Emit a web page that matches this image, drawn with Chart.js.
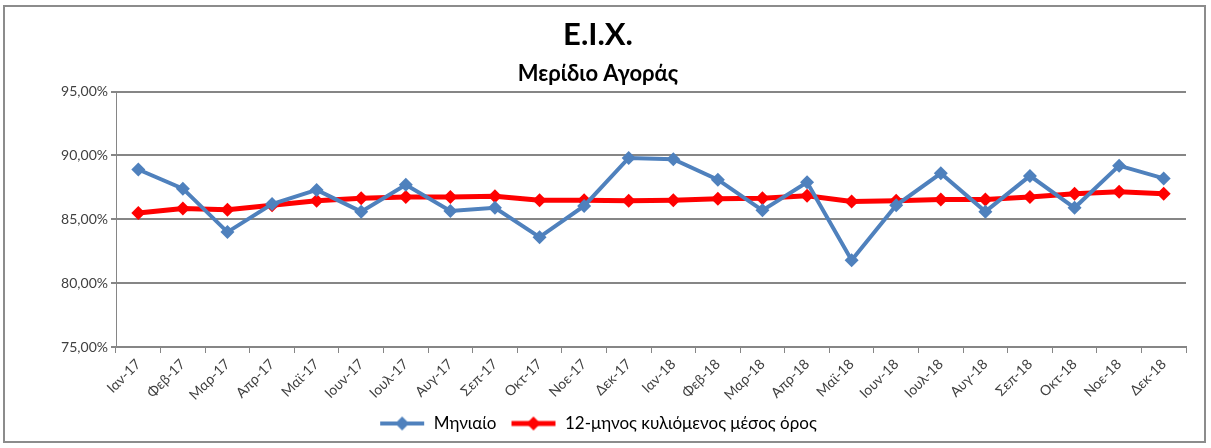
<!DOCTYPE html>
<html lang="el">
<head>
    <meta charset="UTF-8">
    <script src="https://cdn.jsdelivr.net/npm/chart.js"></script>
    <title>Μερίδιο Αγοράς</title>
    <style>
        body {
            margin: 0;
            background: #ffffff;
        }
        .wrap {
            width: 1211px;
            height: 448px;
            position: relative;
        }
    </style>
</head>
<body>
    <div class="wrap">
        <canvas id="shareChart" width="1211" height="448"></canvas>
    </div>

    <script>
        // data
        const months = ["Ιαν-17", "Φεβ-17", "Μαρ-17", "Απρ-17", "Μαϊ-17", "Ιουν-17", "Ιουλ-17", "Αυγ-17",
            "Σεπ-17", "Οκτ-17", "Νοε-17", "Δεκ-17", "Ιαν-18", "Φεβ-18", "Μαρ-18", "Απρ-18",
            "Μαϊ-18", "Ιουν-18", "Ιουλ-18", "Αυγ-18", "Σεπ-18", "Οκτ-18", "Νοε-18", "Δεκ-18"];
        const monthly = [88.9, 87.4, 84.0, 86.2, 87.3, 85.6, 87.7, 85.65, 85.9, 83.6, 86.05, 89.8,
            89.7, 88.1, 85.7, 87.9, 81.8, 86.1, 88.6, 85.6, 88.4, 85.9, 89.2, 88.2];
        const rolling = [85.5, 85.85, 85.75, 86.1, 86.45, 86.65, 86.75, 86.75, 86.8, 86.5, 86.5, 86.45,
            86.5, 86.6, 86.65, 86.85, 86.4, 86.45, 86.55, 86.55, 86.75, 87.0, 87.15, 87.0];
        const yTicks = [75, 80, 85, 90, 95];

        const BLUE = "#4F81BD";
        const RED = "#FF0000";
        const FONT = "Lato, 'Open Sans', sans-serif";

        // legend symbol: short line with a diamond on it
        function legendIcon(color, lw) {
            const c = document.createElement("canvas");
            c.width = 46; c.height = 16;
            const g = c.getContext("2d");
            g.strokeStyle = color;
            g.lineWidth = lw;
            g.beginPath(); g.moveTo(1, 8); g.lineTo(45, 8); g.stroke();
            g.fillStyle = color;
            g.beginPath(); g.moveTo(23, 1); g.lineTo(30, 8); g.lineTo(23, 15); g.lineTo(16, 8); g.closePath(); g.fill();
            return c;
        }

        // grey frame round the whole chart
        const frame = {
            id: "frame",
            afterDraw(chart) {
                const ctx = chart.ctx;
                ctx.save();
                ctx.strokeStyle = "#8c8c8c";
                ctx.lineWidth = 2;
                ctx.strokeRect(4, 6, 1201, 436);
                ctx.restore();
            }
        };

        const ctx = document.getElementById("shareChart").getContext("2d");
        new Chart(ctx, {
            type: "line",
            data: {
                labels: months,
                datasets: [{
                    label: "Μηνιαίο",
                    data: monthly,
                    borderColor: BLUE,
                    backgroundColor: BLUE,
                    borderWidth: 4,
                    pointStyle: "rectRot",
                    pointRadius: 7,
                    pointBorderWidth: 0,
                    tension: 0,
                    fill: false
                }, {
                    label: "12-μηνος κυλιόμενος μέσος όρος",
                    data: rolling,
                    borderColor: RED,
                    backgroundColor: RED,
                    borderWidth: 5,
                    pointStyle: "rectRot",
                    pointRadius: 7,
                    pointBorderWidth: 0,
                    tension: 0,
                    fill: false
                }]
            },
            options: {
                responsive: false,
                animation: false,
                layout: { padding: { left: 10, right: 25, top: 10, bottom: 6 } },
                plugins: {
                    title: {
                        display: true,
                        text: "E.I.X.",
                        color: "#000",
                        font: { family: FONT, size: 31, weight: "bold" },
                        padding: { top: 6, bottom: 4 }
                    },
                    subtitle: {
                        display: true,
                        text: "Μερίδιο Αγοράς",
                        color: "#000",
                        font: { family: FONT, size: 22, weight: "bold" },
                        padding: { top: 4, bottom: 4 }
                    },
                    legend: {
                        position: "bottom",
                        labels: {
                            color: "#000",
                            font: { family: FONT, size: 17 },
                            usePointStyle: true,
                            pointStyleWidth: 46,
                            boxHeight: 16,
                            padding: 14,
                            generateLabels(chart) {
                                return chart.data.datasets.map((ds, i) => ({
                                    text: ds.label,
                                    pointStyle: legendIcon(ds.borderColor, ds.borderWidth),
                                    datasetIndex: i,
                                    hidden: false,
                                    fontColor: "#000"
                                }));
                            }
                        }
                    },
                    tooltip: { enabled: false }
                },
                scales: {
                    x: {
                        offset: true,
                        afterFit(scale) {
                            scale.height = 54;
                        },
                        grid: {
                            offset: true,
                            drawOnChartArea: false,
                            drawTicks: true,
                            tickLength: 6,
                            color: "#868686",
                            lineWidth: 1
                        },
                        border: { color: "#868686", width: 2 },
                        ticks: {
                            color: "#404040",
                            font: { family: FONT, size: 14 },
                            minRotation: 45,
                            maxRotation: 45,
                            autoSkip: false
                        }
                    },
                    y: {
                        min: 75,
                        max: 95,
                        afterBuildTicks(scale) {
                            scale.ticks = yTicks.map(v => ({ value: v }));
                        },
                        afterFit(scale) {
                            scale.width = 106;
                        },
                        grid: {
                            color: "#868686",
                            lineWidth: 2,
                            tickLength: 5
                        },
                        border: { color: "#868686", width: 1 },
                        ticks: {
                            color: "#404040",
                            font: { family: FONT, size: 14 },
                            callback: v => v.toFixed(2).replace(".", ",") + "%"
                        }
                    }
                }
            },
            plugins: [frame]
        });
    </script>
</body>
</html>
